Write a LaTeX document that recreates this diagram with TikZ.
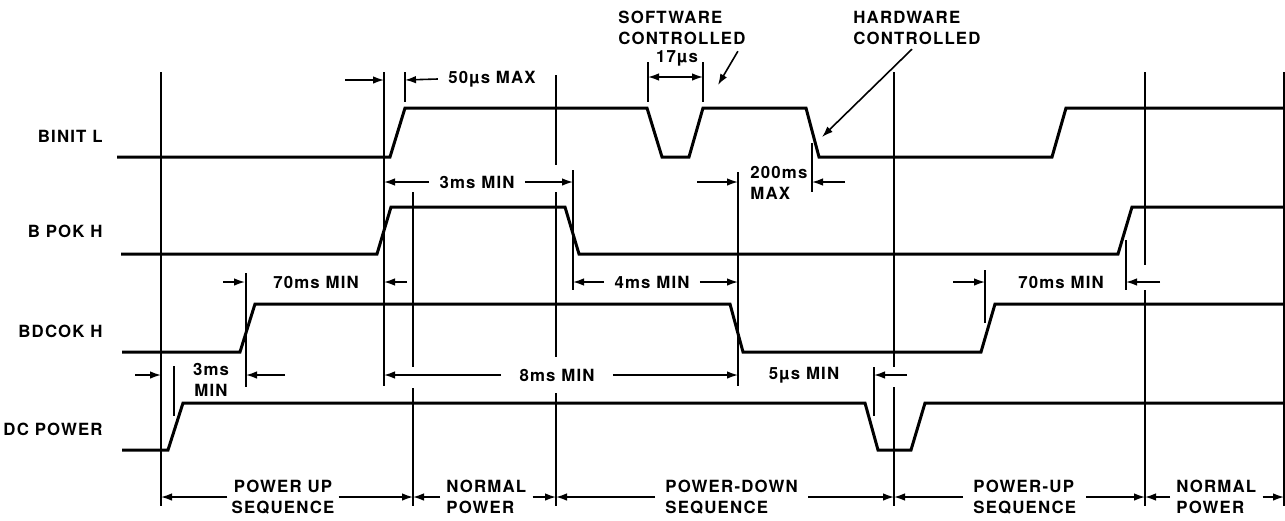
\documentclass[tikz,border=0pt]{standalone}
\usepackage{fontspec}
\setmainfont{TeX Gyre Heros}[LetterSpace=7]
\usetikzlibrary{arrows.meta}
\tikzset{
  sig/.style={line width=1.5pt},
  vl/.style={line width=0.9pt},
  dim/.style={line width=0.8pt,-{Latex[length=5.5pt,width=3.8pt]}},
  dbl/.style={line width=0.8pt,{Latex[length=5.5pt,width=3.8pt]}-{Latex[length=5.5pt,width=3.8pt]}},
  txt/.style={inner xsep=5pt,inner ysep=1pt,font=\fontsize{8.4}{10.5}\selectfont\bfseries},
  nev/.style={anchor=east,inner sep=0pt,font=\fontsize{8.4}{10.5}\selectfont\bfseries},
}

\begin{document}
\begin{tikzpicture}[x=0.5pt,y=-0.5pt]
  \fill[white] (0,0) rectangle (1285,520);
  \useasboundingbox (0,0) rectangle (1285,520);
  % jelnevek
  \node[nev] (binit) at (103,136) {BINIT L};
  \node[nev] (bpok) at (103,231) {B POK H};
  \node[nev] (bdcok) at (103,331) {BDCOK H};
  \node[nev] (dcpow) at (103,429) {DC POWER};
  % idopont vonalak
  \foreach \x/\a/\b in {161/72/506, 384/72/386, 405/72/102, 413/192/367, 413/388/506,
    556/75/165, 556/192/357, 556/393/506, 573/170/290, 738/172/386, 812/143/192,
    648/62/102, 703/62/102, 894/72/367, 894/387/506, 1145/72/265, 1145/290/506,
    1126/240/290, 1284/72/506, 985/270/323, 246/273/387, 174/366/416, 874/367/416}
    \draw[vl] (\x,\a) -- (\x,\b);
  % jelalakok
  \draw[sig] (117,157) -- (390,157) -- (405,108) -- (647,108) -- (662,157) -- (689,157)
    -- (703,108) -- (806,108) -- (819,157) -- (1052,157) -- (1066,108) -- (1283,108);
  \draw[sig] (121,254) -- (377,254) -- (391,207) -- (565,207) -- (579,254) -- (1118,254)
    -- (1132,207) -- (1283,207);
  \draw[sig] (122,352) -- (240,352) -- (255,304) -- (730,304) -- (743,352) -- (981,352)
    -- (995,304) -- (1283,304);
  \draw[sig] (122,450) -- (168,450) -- (183,403) -- (865,403) -- (878,450) -- (911,450)
    -- (925,403) -- (1283,403);
  % kulso nyilak
  \foreach \a/\b/\y in {345/384/80, 697/738/182, 845/812/182, 223/245/282, 407/384/282,
    953/985/282, 1160/1126/282, 135/161/375, 285/246/375, 907/874/375}
    \draw[dim] (\a,\y) -- (\b,\y);
  % feliratok
  \node[txt] (t50) at (492,79) {50µs MAX};
  \draw[dim] (t50.west) -- (405,80);
  \node[txt,align=left,anchor=west,inner xsep=0pt] (tsw) at (618,28) {SOFTWARE\\CONTROLLED};
  \node[txt] (t17) at (677,58) {17µs};
  \draw[dbl] (648,77) -- (703,77);
  \draw[dim] ([xshift=-4pt,yshift=-2pt]tsw.south east) -- (718,85);
  \node[txt,align=left,anchor=west,inner xsep=0pt] (thw) at (853,28) {HARDWARE\\CONTROLLED};
  \draw[dim] ([xshift=29.5pt,yshift=-1pt]thw.south west) -- (822,137);
  \node[txt] (t3a) at (477,182) {3ms MIN};
  \draw[dim] (t3a.west) -- (384,182);
  \draw[dim] (t3a.east) -- (573,182);
  \node[txt,align=left,anchor=west,inner xsep=0pt] (t200) at (750,183) {200ms\\MAX};
  \node[txt] (t70a) at (316,282) {70ms MIN};
  \node[txt] (t4) at (652,282) {4ms MIN};
  \draw[dim] (t4.west) -- (573,282);
  \draw[dim] (t4.east) -- (738,282);
  \node[txt] (t70b) at (1061,282) {70ms MIN};
  \node[txt,align=center] (t3b) at (211,380) {3ms\\MIN};
  \node[txt,inner xsep=9pt] (t8) at (557,375) {8ms MIN};
  \draw[dim] (t8.west) -- (384,375);
  \draw[dim] (t8.east) -- (738,375);
  \node[txt] (t5) at (804,375) {5µs MIN};
  % szakaszok
  \node[txt,align=center,inner xsep=2pt] (pu1) at (283,497) {POWER UP\\SEQUENCE};
  \node[txt,align=left,anchor=west,inner xsep=3pt] (np1) at (440,497) {NORMAL\\POWER};
  \node[txt,align=left,anchor=west,inner xsep=5pt] (pd) at (655,497) {POWER-DOWN\\SEQUENCE};
  \node[txt,align=left,anchor=west,inner xsep=5pt] (pu2) at (963,497) {POWER-UP\\SEQUENCE};
  \node[txt,align=left,anchor=west,inner xsep=3pt] (np2) at (1170,497) {NORMAL\\POWER};
  \foreach \n/\l/\r in {pu1/161/413, np1/413/556, pd/556/894, pu2/894/1145, np2/1145/1284} {
    \draw[dim] (\n.west) -- (\l,497);
    \draw[dim] (\n.east) -- (\r,497);
  }
\end{tikzpicture}
\end{document}
